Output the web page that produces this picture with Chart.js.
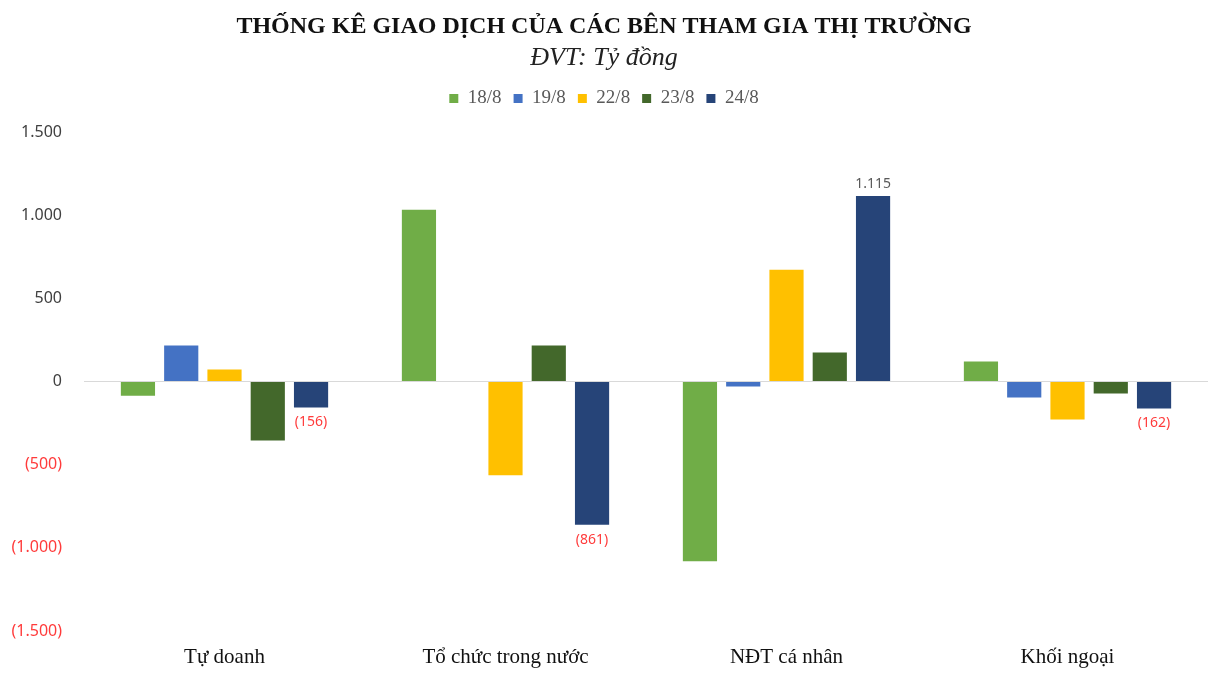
<!DOCTYPE html>
<html>
<head>
<meta charset="utf-8">
<script src="https://cdn.jsdelivr.net/npm/chart.js@4/dist/chart.umd.min.js"></script>
<style>
  html, body { margin: 0; padding: 0; background: #fff; }
  #wrap { width: 1214px; height: 676px; position: relative; }
</style>
</head>
<body>
<div id="wrap"><canvas id="myChart"></canvas></div>
<script>
// categories and series (Tỷ đồng)
var categories = ['Tự doanh', 'Tổ chức trong nước', 'NĐT cá nhân', 'Khối ngoại'];
var seriesNames = ['18/8', '19/8', '22/8', '23/8', '24/8'];
var v_18_8 = [-85, 1032, -1080, 120];
var v_19_8 = [216, 0, -30, -96];
var v_22_8 = [72, -564, 672, -228];
var v_23_8 = [-355, 216, 174, -72];
var v_24_8 = [-156, -861, 1115, -162];
var seriesColors = ['#70ad47', '#4472c4', '#ffc000', '#43682b', '#264478'];
var yTicks = [-1500, -1000, -500, 0, 500, 1000, 1500];

function fmt(v) {
    var s = Math.abs(Math.round(v)).toString().replace(/\B(?=(\d{3})+(?!\d))/g, '.');
    return v < 0 ? '(' + s + ')' : s;
}

// labels only on the last series (24/8)
var labelPlugin = {
    id: 'lastLabels',
    afterDatasetsDraw: function(chart) {
        var ctx = chart.ctx;
        var meta = chart.getDatasetMeta(4);
        ctx.save();
        ctx.font = '14px "Noto Sans"';
        ctx.textAlign = 'center';
        meta.data.forEach(function(bar, i) {
            var v = v_24_8[i];
            if (v < 0) {
                ctx.fillStyle = '#ff3b3b';
                ctx.textBaseline = 'top';
                ctx.fillText(fmt(v), bar.x, bar.y + 8);
            } else {
                ctx.fillStyle = '#595959';
                ctx.textBaseline = 'bottom';
                ctx.fillText(fmt(v), bar.x, bar.y - 5);
            }
        });
        ctx.restore();
    }
};

// extra room below the legend
var legendMargin = {
    id: 'legendMargin',
    beforeInit: function(chart) {
        var fit = chart.legend.fit;
        chart.legend.fit = function() {
            fit.bind(chart.legend)();
            this.height += 14;
        };
    }
};

var ctx = document.getElementById('myChart').getContext('2d');
var myChart = new Chart(ctx, {
    type: 'bar',
    data: {
        labels: categories,
        datasets: [v_18_8, v_19_8, v_22_8, v_23_8, v_24_8].map(function(d, i) {
            return {
                label: seriesNames[i],
                data: d,
                backgroundColor: seriesColors[i],
                borderWidth: 0,
                categoryPercentage: 0.77,
                barPercentage: 0.79
            };
        })
    },
    options: {
        responsive: true,
        maintainAspectRatio: false,
        animation: false,
        layout: { padding: { left: 0, right: 6, top: 8, bottom: 0 } },
        plugins: {
            title: {
                display: true,
                text: 'THỐNG KÊ GIAO DỊCH CỦA CÁC BÊN THAM GIA THỊ TRƯỜNG',
                color: '#111',
                font: { family: '"Liberation Serif"', size: 24, weight: 'bold' },
                padding: { top: 4, bottom: 2 }
            },
            subtitle: {
                display: true,
                text: 'ĐVT: Tỷ đồng',
                color: '#222',
                font: { family: '"Liberation Serif"', size: 26, style: 'italic' },
                padding: { top: 0, bottom: 3 }
            },
            legend: {
                position: 'top',
                labels: {
                    boxWidth: 9,
                    boxHeight: 9,
                    color: '#595959',
                    font: { family: '"Liberation Serif"', size: 19 },
                    padding: 12
                }
            },
            tooltip: { enabled: false }
        },
        scales: {
            x: {
                grid: { display: false },
                border: { display: false },
                ticks: {
                    color: '#111',
                    font: { family: '"Liberation Serif"', size: 21, lineHeight: 1.0 },
                    padding: 8
                }
            },
            y: {
                min: -1500,
                max: 1500,
                afterBuildTicks: function(axis) {
                    axis.ticks = yTicks.map(function(v) { return { value: v }; });
                },
                afterFit: function(axis) { axis.width = 84; },
                border: { display: false },
                grid: {
                    drawTicks: false,
                    color: function(c) { return c.tick && c.tick.value === 0 ? '#d9d9d9' : 'rgba(0,0,0,0)'; }
                },
                ticks: {
                    padding: 22,
                    font: { family: '"Noto Sans"', size: 16 },
                    color: function(c) { return c.tick && c.tick.value < 0 ? '#ff3b3b' : '#404040'; },
                    callback: function(v) { return fmt(v); }
                }
            }
        }
    },
    plugins: [labelPlugin, legendMargin]
});
</script>
</body>
</html>
